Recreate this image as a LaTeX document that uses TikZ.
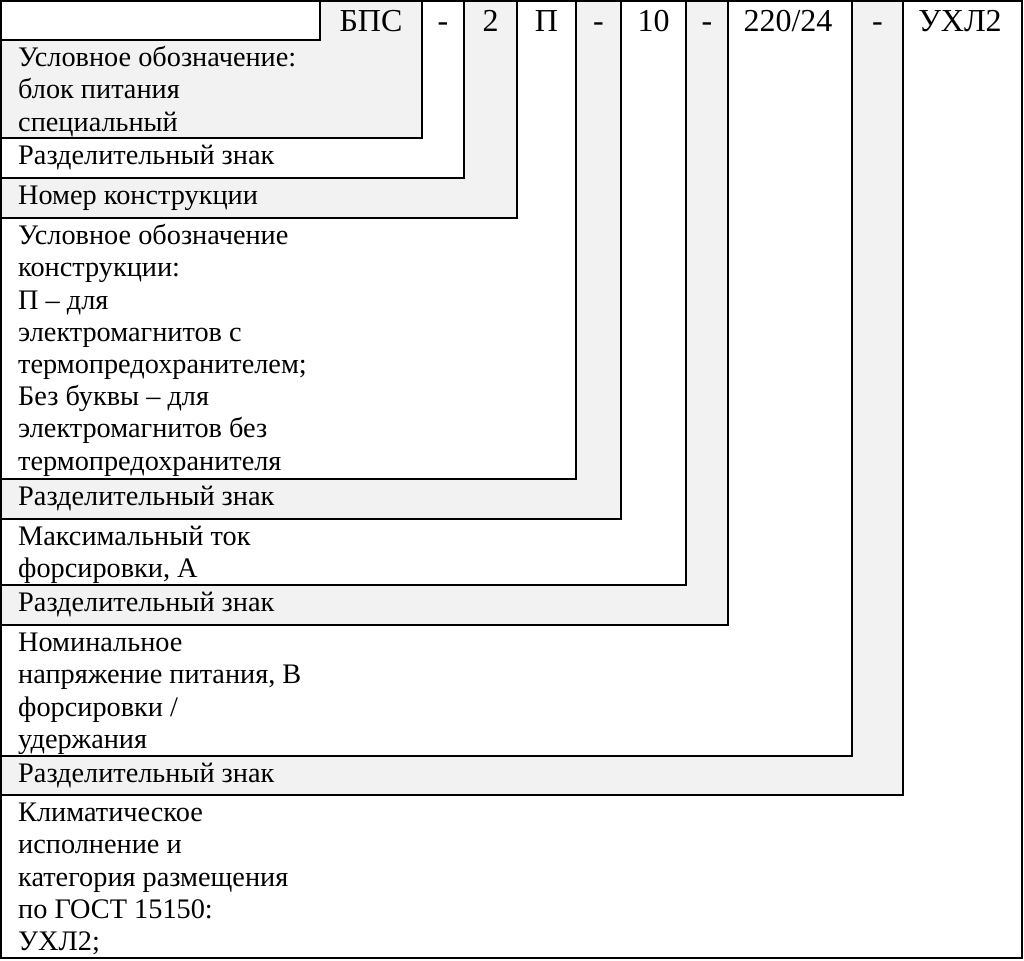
\documentclass[tikz,border=0pt]{standalone}
\usepackage{fontspec}
\setmainfont{Liberation Serif}
\begin{document}
\begin{tikzpicture}[x=1pt,y=-1pt,
  box/.style={draw=black, line width=1.8pt},
  wbox/.style={box, fill=white},
  gbox/.style={box, fill=black!5},
  lbl/.style={anchor=north west, inner sep=0pt, align=left, font=\fontsize{28.3}{32.2}\selectfont},
  hdr/.style={anchor=base, inner sep=0pt, font=\fontsize{32}{38}\selectfont}]
\useasboundingbox (0,0) rectangle (1024,960);
% nested regions, largest first
\draw[wbox] (1,1) rectangle (1022,958);
\draw[gbox] (1,1) rectangle (903,795);
\draw[wbox] (1,1) rectangle (852,756);
\draw[gbox] (1,1) rectangle (728,625);
\draw[wbox] (1,1) rectangle (686,585);
\draw[gbox] (1,1) rectangle (621,519);
\draw[wbox] (1,1) rectangle (576,479);
\draw[gbox] (1,1) rectangle (517,218);
\draw[wbox] (1,1) rectangle (464,178);
\draw[gbox] (1,1) rectangle (422,138);
\draw[wbox] (1,1) rectangle (320,40);
% header
\node[hdr] (h1) at (371,32) {БПС};
\node[hdr] (h2) at (443,32) {-};
\node[hdr] (h3) at (490.5,32) {2};
\node[hdr] (h4) at (546.5,32) {П};
\node[hdr] (h5) at (598.5,32) {-};
\node[hdr] (h6) at (653.5,32) {10};
\node[hdr] (h7) at (707,32) {-};
\node[hdr] (h8) at (788,32) {220/24};
\node[hdr] (h9) at (877.5,32) {-};
\node[hdr] (h10) at (960,32) {УХЛ2};
% labels
\node[lbl] (l1) at (18,40) {\rule{0pt}{26.5pt}Условное обозначение:\\блок питания\\специальный};
\node[lbl] (l2) at (18,138) {\rule{0pt}{26.5pt}Разделительный знак};
\node[lbl] (l3) at (18,178) {\rule{0pt}{26.5pt}Номер конструкции};
\node[lbl] (l4) at (18,218) {\rule{0pt}{26.5pt}Условное обозначение\\конструкции:\\П – для\\электромагнитов с\\термопредохранителем;\\Без буквы – для\\электромагнитов без\\термопредохранителя};
\node[lbl] (l5) at (18,479) {\rule{0pt}{26.5pt}Разделительный знак};
\node[lbl] (l6) at (18,519) {\rule{0pt}{26.5pt}Максимальный ток\\форсировки, А};
\node[lbl] (l7) at (18,585) {\rule{0pt}{26.5pt}Разделительный знак};
\node[lbl] (l8) at (18,625) {\rule{0pt}{26.5pt}Номинальное\\напряжение питания, В\\форсировки /\\удержания};
\node[lbl] (l9) at (18,756) {\rule{0pt}{26.5pt}Разделительный знак};
\node[lbl] (l10) at (18,795) {\rule{0pt}{26.5pt}Климатическое\\исполнение и\\категория размещения\\по ГОСТ 15150:\\УХЛ2;};
\end{tikzpicture}
\end{document}
